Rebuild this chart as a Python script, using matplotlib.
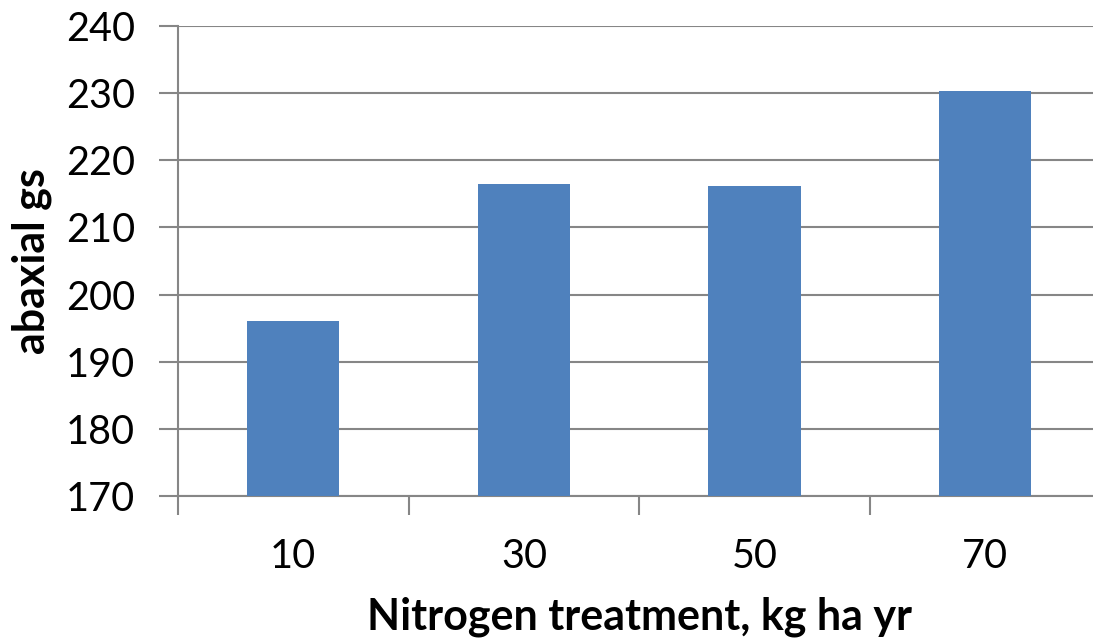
import matplotlib
matplotlib.use("Agg")
import matplotlib.pyplot as plt

categories = ["10", "30", "50", "70"]
values = [196.0, 216.5, 216.2, 230.3]
yticks = [170, 180, 190, 200, 210, 220, 230, 240]

plt.rcParams['font.family'] = ['Lato', 'DejaVu Sans']

fig = plt.figure(figsize=(10.93, 6.43), dpi=100)
ax = fig.add_axes([178/1093, 147/643, 922.5/1093, 470/643])

x = list(range(len(categories)))
ax.bar(x, values, width=0.4, color='#4F81BD', zorder=3)
ax.set_xlim(-0.5, len(categories) - 0.5)
ax.set_ylim(170, 240)
ax.set_yticks(yticks)
ax.set_yticklabels([str(t) for t in yticks], fontsize=28.5)
ax.set_xticks([i - 0.5 for i in range(len(categories))])
ax.set_xticklabels([])
ax.set_xticks(x, minor=True)
ax.set_xticklabels(categories, minor=True, fontsize=28.5)
ax.tick_params(axis='x', which='minor', length=0, pad=30)
ax.tick_params(axis='x', which='major', length=14, width=1.5, color='#868686')
ax.tick_params(axis='y', length=14, width=1.5, color='#868686', pad=17)

ax.grid(axis='y', color='#868686', linewidth=1.5, zorder=0)
for s in ['top', 'right']:
    ax.spines[s].set_visible(False)
for s in ['left', 'bottom']:
    ax.spines[s].set_color('#868686')
    ax.spines[s].set_linewidth(1.5)

ax.set_ylabel('abaxial gs', fontsize=31, fontweight='bold', labelpad=10)
ax.set_xlabel('Nitrogen treatment, kg ha yr', fontsize=31, fontweight='bold', labelpad=16)

fig.savefig('out.png', dpi=100)
